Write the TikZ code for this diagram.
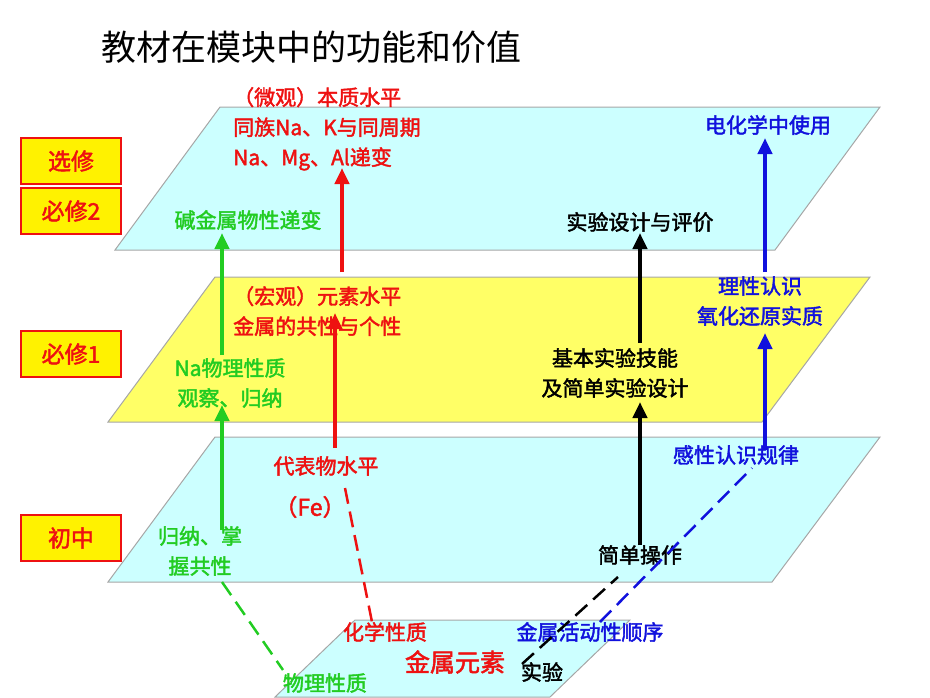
\documentclass[tikz,border=0pt]{standalone}
\usepackage{fontspec}
\setmainfont{Noto Sans CJK SC}[AutoFakeBold=2]
\usetikzlibrary{arrows.meta,positioning}
\definecolor{planecyan}{HTML}{CCFFFF}
\definecolor{planeyel}{HTML}{FFFF66}
\definecolor{txtgreen}{HTML}{22CC22}
\definecolor{txtred}{HTML}{EE1111}
\definecolor{txtblue}{HTML}{1111DD}
\begin{document}
\begin{tikzpicture}[x=1pt,y=-1pt,
    plane/.style={draw=gray!70, line width=1pt},
    lvl/.style={draw=txtred, line width=1.5pt, fill=yellow, text=txtred, font=\fontsize{23}{25}\selectfont\bfseries, minimum width=100pt, minimum height=46pt},
    lbl/.style={font=\fontsize{21}{30}\selectfont\bfseries, align=center, inner sep=1pt},
    uparrow/.style={-{Triangle[length=16pt,width=14pt]}, line width=4.5pt},
    dasharrow/.style={dashed, dash pattern=on 16pt off 8pt, line width=2.5pt}
]
\useasboundingbox (0,0) rectangle (930,697);

% Planes
\draw[plane, fill=planecyan] (275,697) -- (355,620) -- (630,620) -- (550,697) -- cycle;
\draw[plane, fill=planecyan] (108,582) -- (215,437) -- (880,437) -- (772,582) -- cycle;
\draw[plane, fill=planeyel] (108,422) -- (215,277) -- (870,277) -- (762,422) -- cycle;
\draw[plane, fill=planecyan] (115,250) -- (220,107) -- (880,107) -- (775,250) -- cycle;

% Title
\node[anchor=west, font=\fontsize{35}{37}\selectfont] (title) at (98,47) {教材在模块中的功能和价值};

% Level boxes
\node[lvl] (xuanxiu) at (71,161) {选修};
\node[lvl] (bixiu2) at (71,211) {必修2};
\node[lvl] (bixiu1) at (71,354) {必修1};
\node[lvl] (chuzhong) at (71,538) {初中};

% Top plane
\node[lbl, text=txtred, anchor=north west, align=left] (micro) at (232,86) {（微观）本质水平\\同族Na、K与同周期\\Na、Mg、Al递变};
\node[lbl, text=txtblue] (dianhua) at (768,125) {电化学中使用};
\node[lbl, text=txtgreen] (jianjin) at (248,220) {碱金属物性递变};
\node[lbl] (shiyan2) at (640,222) {实验设计与评价};

% Middle plane
\node[lbl, text=txtred, anchor=north west, align=left] (macro) at (232,285) {（宏观）元素水平\\金属的共性与个性};
\node[lbl, text=txtblue] (lixing) at (760,301) {理性认识\\氧化还原实质};
\node[lbl] (jiben) at (615,373) {基本实验技能\\及简单实验设计};
\node[lbl, text=txtgreen] (nawuli) at (230,383) {Na物理性质\\观察、归纳};

% Lower plane
\node[lbl, text=txtred] (daibiao) at (326,466) {代表物水平};
\node[lbl, text=txtred, font=\fontsize{23}{25}\selectfont\bfseries] (fe) at (310,507) {（Fe）};
\node[lbl, text=txtblue] (ganxing) at (736,455) {感性认识规律};
\node[lbl, text=txtgreen] (guina) at (200,551) {归纳、掌\\握共性};
\node[lbl] (jiandan) at (640,555) {简单操作};

% Bottom plane
\node[lbl, text=txtred] (huaxue) at (385,632) {化学性质};
\node[lbl, text=txtblue] (huodong) at (590,632) {金属活动性顺序};
\node[lbl, text=txtred, font=\fontsize{25}{27}\selectfont\bfseries] (jinshu) at (455,662) {金属元素};
\node[lbl] (shiyan) at (542,672) {实验};
\node[lbl, text=txtgreen] (wuli) at (325,683) {物理性质};

% Arrows
\draw[uparrow, txtgreen] (222,530) -- (222,405);
\draw[uparrow, txtgreen] (222,355) -- (222,233);
\draw[uparrow, txtred] (335,448) -- (335,313);
\draw[uparrow, txtred] (342,272) -- (342,168);
\draw[uparrow] (640,545) -- (640,402);
\draw[uparrow] (640,343) -- (640,233);
\draw[uparrow, txtblue] (765,450) -- (765,333);
\draw[uparrow, txtblue] (765,272) -- (765,138);

% Dashed links
\draw[dasharrow, txtgreen] (222,582) -- (283,670);
\draw[dasharrow, txtred] (345,488) -- (372,622);
\draw[dasharrow] (522,664) -- (618,577);
\draw[dasharrow, txtblue] (600,622) -- (752,468);
\end{tikzpicture}
\end{document}
